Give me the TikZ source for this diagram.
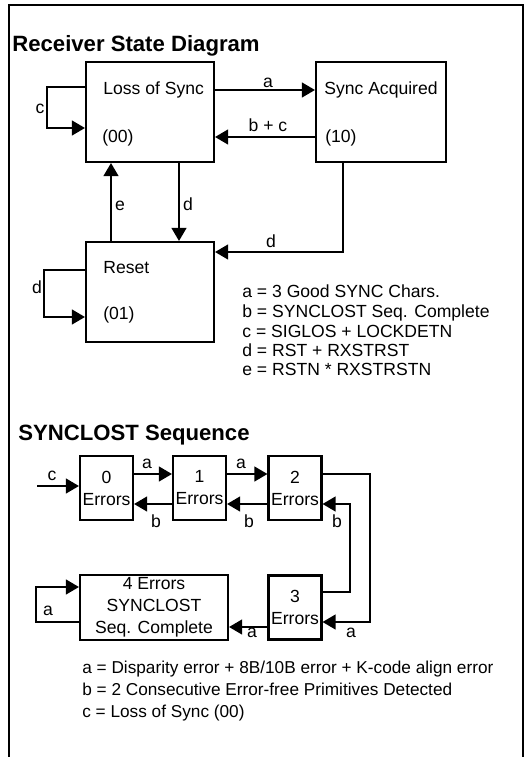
\documentclass[tikz,border=0pt]{standalone}
\usepackage{fontspec}
\setmainfont{Liberation Sans}
\usepackage{tikz}
\usetikzlibrary{arrows.meta,positioning}

\begin{document}
\begin{tikzpicture}[
  x=0.02cm,y=-0.02cm,
  state/.style={draw,line width=1.2pt,minimum width=2.56cm,minimum height=2cm,inner sep=0pt},
  errbox/.style={draw,line width=1.2pt,minimum width=1.06cm,minimum height=1.28cm,inner sep=0pt,align=center,font=\fontsize{10}{12.5}\selectfont},
  conn/.style={line width=1.1pt,-{Triangle[length=7.5pt,width=8.5pt]}},
  ttl/.style={anchor=base west,inner sep=0pt,font=\fontsize{12.6}{15}\selectfont\bfseries},
  txt/.style={anchor=base west,inner sep=0pt,font=\fontsize{10}{12}\selectfont},
  lab/.style={anchor=base,inner sep=0pt,font=\fontsize{10}{12}\selectfont}
]
  \useasboundingbox (0,0) rectangle (527,757);
  \draw[line width=1.2pt] (9,757) -- (9,5) -- (523,5) -- (523,757);

  % Receiver state diagram
  \node[ttl] (t1) at (12,52) {Receiver State Diagram};
  \node[state] (los) at (150,112) {};
  \node[state,minimum width=2.6cm] (sync) at (381,112) {};
  \node[state] (rst) at (150,292) {};
  \node[txt] (los1) at (103,94) {Loss of Sync};
  \node[txt] (los2) at (102,142) {(00)};
  \node[txt] (sync1) at (324,94) {Sync Acquired};
  \node[txt] (sync2) at (325,142) {(10)};
  \node[txt] (rst1) at (103,273) {Reset};
  \node[txt] (rst2) at (103,319) {(01)};

  \draw[conn] (los.east |- 0,90) -- (sync.west |- 0,90);
  \draw[conn] (sync.west |- 0,137) -- (los.east |- 0,137);
  \draw[conn] (los.west |- 0,87) -- ++(-38,0) |- (los.west |- 0,128);
  \draw[conn] (rst.north -| 111,0) -- (los.south -| 111,0);
  \draw[conn] (los.south -| 179,0) -- (rst.north -| 179,0);
  \draw[conn] (sync.south -| 343,0) |- (rst.east |- 0,252);
  \draw[conn] (rst.west |- 0,270) -- ++(-41,0) |- (rst.west |- 0,317);

  \node[lab] (la) at (268,88) {a};
  \node[lab] (lbc) at (268,132) {b + c};
  \node[lab] (lc) at (40,113) {c};
  \node[lab] (le) at (120,210) {e};
  \node[lab] (ld1) at (188,210) {d};
  \node[lab] (ld2) at (271,247) {d};
  \node[lab] (ld3) at (37,293) {d};

  \node[txt] (k1) at (242,297) {a = 3 Good SYNC Chars.};
  \node[txt] (k2) at (242,317) {b = SYNCLOST Seq. Complete};
  \node[txt] (k3) at (242,337) {c = SIGLOS + LOCKDETN};
  \node[txt] (k4) at (242,356) {d = RST + RXSTRST};
  \node[txt] (k5) at (242,375) {e = RSTN * RXSTRSTN};

  % SYNCLOST sequence
  \node[ttl] (t2) at (18,440) {SYNCLOST Sequence};
  \node[errbox] (e0) at (106.5,488) {0\\Errors};
  \node[errbox] (e1) at (199.5,488) {1\\Errors};
  \node[errbox] (e2) at (295,488) {2\\Errors};
  \node[errbox] (e3) at (295,607.5) {3\\Errors};
  \node[errbox,minimum width=2.96cm,minimum height=1.3cm] (e4) at (154,607.5) {4 Errors\\SYNCLOST\\Seq. Complete};
  \coordinate (cin) at (37,486);

  \draw[conn] (cin) -- (cin -| e0.west);
  \draw[conn] (e0.east |- 0,474) -- (e1.west |- 0,474);
  \draw[conn] (e1.west |- 0,504) -- (e0.east |- 0,504);
  \draw[conn] (e1.east |- 0,474) -- (e2.west |- 0,474);
  \draw[conn] (e2.west |- 0,504) -- (e1.east |- 0,504);
  \draw[conn] (e2.east |- 0,474) -- ++(47,0) |- (e3.east |- 0,622);
  \draw[conn] (e3.east |- 0,592) -- ++(27,0) |- (e2.east |- 0,504);
  \draw[conn] (e3.west |- 0,627) -- (e4.east |- 0,627);
  \draw[conn] (e4.west |- 0,622) -- ++(-43,0) |- (e4.west |- 0,587);

  \node[lab] (sc) at (52,480) {c};
  \node[lab] (sa1) at (147,468) {a};
  \node[lab] (sa2) at (241,468) {a};
  \node[lab] (sb1) at (156,527) {b};
  \node[lab] (sb2) at (249,527) {b};
  \node[lab] (sb3) at (337,527) {b};
  \node[lab] (sa3) at (351,637) {a};
  \node[lab] (sa4) at (252,637) {a};
  \node[lab] (sa5) at (48,615) {a};

  \node[txt,font=\fontsize{9.8}{12}\selectfont] (m1) at (82,673) {a = Disparity error + 8B/10B error + K-code align error};
  \node[txt,font=\fontsize{9.8}{12}\selectfont] (m2) at (82,695) {b = 2 Consecutive Error-free Primitives Detected};
  \node[txt,font=\fontsize{9.8}{12}\selectfont] (m3) at (82,717) {c = Loss of Sync (00)};
\end{tikzpicture}
\end{document}
